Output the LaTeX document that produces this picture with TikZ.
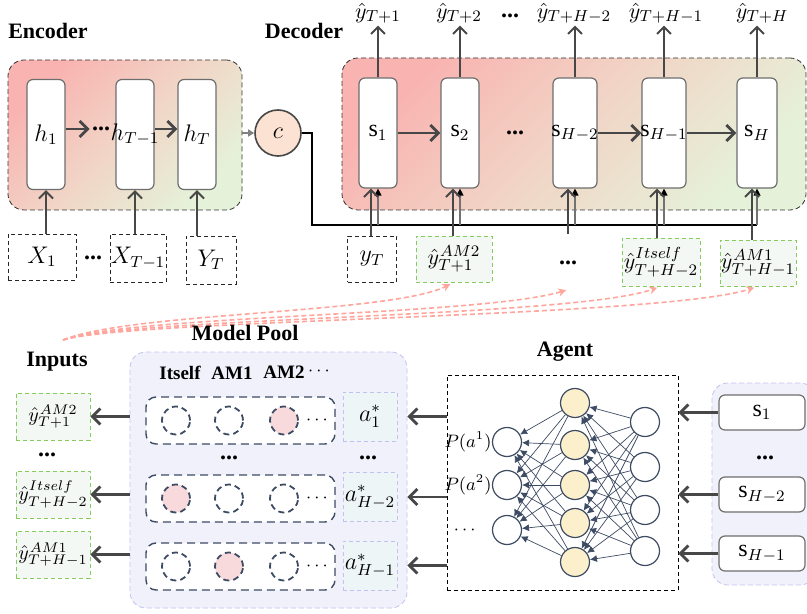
\documentclass[tikz,border=0pt]{standalone}
\usepackage{fontspec}
\setmainfont{Liberation Serif}
\usetikzlibrary{arrows.meta,positioning}
\definecolor{arrowgray}{HTML}{474747}
\definecolor{cellline}{HTML}{6E6E6E}
\definecolor{panelpink}{HTML}{F9B3B1}
\definecolor{panelmid}{HTML}{F1D5C6}
\definecolor{panelgreen}{HTML}{E5F2D9}
\definecolor{cfill}{HTML}{FBE2D2}
\definecolor{boxgreen}{HTML}{86CC5A}
\definecolor{boxgreenfill}{HTML}{F3F8F4}
\definecolor{lavline}{HTML}{C2C2F0}
\definecolor{lavfill}{HTML}{F1F1FC}
\definecolor{afill}{HTML}{EEF5F6}
\definecolor{slate}{HTML}{3D4B63}
\definecolor{rosefill}{HTML}{F8D9DC}
\definecolor{nnyellow}{HTML}{FCEFCB}
\definecolor{curvepink}{HTML}{FFA59C}
\tikzset{
  head/.style={font=\fontsize{11}{13}\selectfont\bfseries, inner sep=1pt},
  colhead/.style={font=\fontsize{9.5}{11}\selectfont\bfseries, inner sep=1pt},
  dotsty/.style={font=\fontsize{12}{14}\selectfont\bfseries, inner sep=1pt},
  panel/.style={draw=black!80, dash pattern=on 2.5pt off 1.5pt, rounded corners=8pt,
    top color=panelpink, bottom color=panelgreen, middle color=panelmid, shading angle=45, inner sep=0pt},
  lavpanel/.style={draw=lavline, dash pattern=on 2.5pt off 1.5pt, rounded corners=8pt, fill=lavfill, inner sep=0pt},
  cell/.style={draw=cellline, line width=0.6pt, fill=white, rounded corners=3pt, minimum width=19pt,
    minimum height=55pt, inner sep=0pt, font=\fontsize{12}{14}\selectfont},
  obs/.style={draw=black!85, dash pattern=on 2pt off 1.5pt, fill=white, inner sep=0pt, font=\fontsize{12}{14}\selectfont},
  pred/.style={draw=boxgreen, dash pattern=on 2pt off 1.5pt, fill=boxgreenfill, inner sep=0pt, font=\fontsize{11}{13}\selectfont},
  abox/.style={draw=lavline, dash pattern=on 2pt off 1.5pt, fill=afill, minimum width=27pt, minimum height=24.5pt,
    inner sep=0pt, font=\fontsize{12}{14}\selectfont},
  sbox/.style={draw=cellline, line width=0.6pt, fill=white, rounded corners=3pt, minimum width=43pt,
    minimum height=17.5pt, inner sep=0pt, font=\fontsize{12}{14}\selectfont},
  rowbox/.style={draw=slate, line width=0.7pt, dash pattern=on 4pt off 2.5pt, fill=white, rounded corners=5pt,
    minimum width=94.5pt, minimum height=23.5pt, inner sep=0pt},
  slot/.style={circle, draw=slate, line width=0.9pt, dash pattern=on 3pt off 2pt, minimum size=14pt, inner sep=0pt},
  neuron/.style={circle, draw=slate, line width=0.6pt, fill=white, minimum size=14.5pt, inner sep=0pt},
  outlbl/.style={font=\fontsize{11}{13}\selectfont, inner sep=1pt},
  small/.style={font=\fontsize{9}{11}\selectfont, inner sep=0pt},
  bigarr/.style={draw=arrowgray, line width=1.4pt, -{Straight Barb[length=4pt,width=8pt]}},
  uparr/.style={draw=arrowgray, line width=1pt, -{Straight Barb[length=3.5pt,width=7pt]}},
  grayarr/.style={draw=black!50, line width=0.8pt, -{Triangle[length=3pt,width=3.5pt]}},
  ctxline/.style={draw=black, line width=0.9pt},
  ctxarr/.style={draw=black!55, line width=0.6pt, -{Triangle[length=3.5pt,width=3.5pt,color=black]}},
  pinkarr/.style={draw=curvepink, line width=0.8pt, dash pattern=on 2.5pt off 1.5pt, shorten >=2pt,
    -{Stealth[length=4pt,width=4pt]}},
  nnedge/.style={draw=slate, line width=0.35pt, -{Latex[length=3.5pt,width=3.5pt]}}
}
\begin{document}
\begin{tikzpicture}[x=0.5pt,y=-0.5pt]
\useasboundingbox (0,0) rectangle (807,614);
\node[head] (enclbl) at (48,31) {Encoder};
\node[head] (declbl) at (304,31) {Decoder};
\node[panel, minimum width=117pt, minimum height=75pt] (enc) at (125,135) {};
\node[panel, minimum width=232pt, minimum height=76pt] (dec) at (574,134) {};
\node[cell] (h1) at (46,134.5) {\makebox[0pt]{$h_1$}};
\node[cell] (hT1) at (135,134.5) {\makebox[0pt]{$h_{T-1}$}};
\node[cell] (hT) at (197,134.5) {\makebox[0pt]{$h_T$}};
\node[dotsty] (edots) at (101,129) {...};
\draw[bigarr] (h1.east |- edots) -- (edots.west);
\draw[bigarr] (hT1.east |- edots) -- (hT.west |- edots);
\node[obs, minimum width=34pt, minimum height=23pt] (x1) at (42,257) {$X_1$};
\node[dotsty] (xdots) at (93,258) {...};
\node[obs, minimum width=28pt, minimum height=24pt] (xT1) at (138,258) {$X_{T-1}$};
\node[obs, minimum width=25pt, minimum height=24pt] (yT0) at (211,260) {$Y_T$};
\draw[uparr] (h1.south |- x1.north) -- (h1.south);
\draw[uparr] (hT1.south |- xT1.north) -- (hT1.south);
\draw[uparr] (hT.south |- yT0.north) -- (hT.south);
\node[circle, draw=arrowgray, line width=0.8pt, fill=cfill, minimum size=23pt, inner sep=0pt,
  font=\fontsize{12}{14}\selectfont] (C) at (278,133) {$c$};
\draw[grayarr] (enc.east |- C.west) -- (C.west);
\node[cell] (s1) at (378,133) {\makebox[0pt]{$\mathrm{s}_1$}};
\node[cell] (s2) at (460,133) {\makebox[0pt]{$\mathrm{s}_2$}};
\node[dotsty] (ddots) at (515,133) {...};
\node[cell, minimum width=22pt] (sH2) at (575,133) {\makebox[0pt]{$\mathrm{s}_{H-2}$}};
\node[cell, minimum width=22pt] (sH1) at (664,133) {\makebox[0pt]{$\mathrm{s}_{H-1}$}};
\node[cell, minimum width=20pt] (sH) at (757,133) {\makebox[0pt]{$\mathrm{s}_H$}};
\draw[bigarr] (s1) -- (s2);
\draw[bigarr] (sH2) -- (sH1);
\draw[bigarr] (sH1) -- (sH);
\node[outlbl] (o1) at (378,13) {$\hat{y}_{T+1}$};
\node[outlbl] (o2) at (459,13) {$\hat{y}_{T+2}$};
\node[dotsty] (odots) at (510,16) {...};
\node[outlbl] (o3) at (574,13) {$\hat{y}_{T+H-2}$};
\node[outlbl] (o4) at (666,13) {$\hat{y}_{T+H-1}$};
\node[outlbl] (o5) at (762,13) {$\hat{y}_{T+H}$};
\foreach \s/\o in {s1/o1,s2/o2,sH2/o3,sH1/o4,sH/o5}
  \draw[uparr] (\s.north) -- (\s.north |- \o.south);
\node[obs, minimum width=24.5pt, minimum height=23pt] (yT) at (372,259) {$y_T$};
\node[pred, minimum width=38pt, minimum height=23pt] (p1) at (454,259) {$\hat{y}^{\mkern1mu AM2}_{T+1}$};
\node[dotsty] (pdots) at (568,263) {...};
\node[pred, minimum width=39pt, minimum height=24pt] (p3) at (661,262) {$\hat{y}^{Itself}_{T+H-2}$};
\node[pred, minimum width=38pt, minimum height=23pt] (p4) at (758,263) {$\hat{y}^{\mkern1mu AM1}_{T+H-1}$};
\coordinate (pdotsin) at (567,234);
\coordinate (pdotsout) at (570,289);
\coordinate (ctx) at (312,225);
\draw[ctxline] (C.east) -| (ctx) -- (ctx -| sH.south);
\foreach \s in {s1,s2,sH2,sH1,sH}
  \draw[ctxarr] (ctx -| \s.south) -- (\s.south);
\draw[uparr] ([xshift=-3.5pt]s1.south |- yT.north) -- ([xshift=-3.5pt]s1.south);
\draw[uparr] ([xshift=-3.5pt]s2.south |- p1.north) -- ([xshift=-3.5pt]s2.south);
\draw[uparr] ([xshift=-3.5pt]sH2.south |- pdotsin) -- ([xshift=-3.5pt]sH2.south);
\draw[uparr] ([xshift=-3.5pt]sH1.south |- p3.north) -- ([xshift=-3.5pt]sH1.south);
\draw[uparr] ([xshift=-2.5pt]sH.south |- p4.north) -- ([xshift=-2.5pt]sH.south);
\coordinate (src) at (63,340);
\draw[pinkarr] (src) .. controls (130,312) and (390,314) .. (p1.south);
\draw[pinkarr] (src) .. controls (130,315) and (480,316) .. (pdotsout);
\draw[pinkarr] (src) .. controls (130,317) and (570,318) .. (p3.south);
\draw[pinkarr] (src) .. controls (130,319) and (660,318) .. (p4.south);
\node[head] (poollbl) at (245,333) {Model Pool};
\node[head] (inlbl) at (57,362) {Inputs};
\node[head] (agentlbl) at (565,352) {Agent};
\node[lavpanel, minimum width=138.5pt, minimum height=128pt] (pool) at (268.5,480) {};
\node[colhead] (c1) at (180,373) {Itself};
\node[colhead] (c2) at (232,373) {AM1};
\node[colhead] (c3) at (284,372) {AM2};
\node[small] (c4) at (319,371) {$\cdots$};
\foreach \r/\y/\f in {1/420.5/3,2/498.5/1,3/566.5/2} {
  \node[rowbox] (row\r) at (240.5,\y) {};
  \foreach \c/\x in {1/176,2/229,3/284} {
    \ifnum\c=\f \def\slotfill{rosefill}\else\def\slotfill{white}\fi
    \node[slot, fill=\slotfill] (m\r\c) at (\x,\y) {};
  }
  \node[small] (rdots\r) at (317,\y) {$\cdots$};
}
\node[dotsty] (mdots) at (229,458) {...};
\node[dotsty] (adots) at (368,458) {...};
\node[abox] (a1) at (370,416.5) {$a^*_1$};
\node[abox] (a2) at (370,497) {$a^*_{H-2}$};
\node[abox] (a3) at (370,565.5) {$a^*_{H-1}$};
\node[pred, minimum width=37pt, minimum height=23.5pt, font=\fontsize{10}{12}\selectfont] (q1) at (53,416.5) {$\hat{y}^{\mkern1mu AM2}_{T+1}$};
\node[dotsty] (qdots) at (47,455) {...};
\node[pred, minimum width=37pt, minimum height=23.5pt, font=\fontsize{10}{12}\selectfont] (q2) at (53,494.5) {$\hat{y}^{Itself}_{T+H-2}$};
\node[pred, minimum width=37pt, minimum height=23.5pt, font=\fontsize{10}{12}\selectfont] (q3) at (53,554.5) {$\hat{y}^{\mkern1mu AM1}_{T+H-1}$};
\foreach \q in {q1,q2,q3}
  \draw[bigarr] (pool.west |- \q) -- (\q.east);
\node[draw, dash pattern=on 2pt off 1.5pt, minimum width=115.5pt, minimum height=107.5pt, inner sep=0pt] (agent) at (562.5,482.5) {};
\foreach \i/\y in {1/442,2/485,3/530}
  \node[neuron] (L\i) at (507,\y) {};
\foreach \i/\y in {1/403,2/445,3/485,4/523,5/562}
  \node[neuron, fill=nnyellow] (M\i) at (575,\y) {};
\foreach \i/\y in {1/422,2/467,3/510,4/551}
  \node[neuron] (R\i) at (645,\y) {};
\foreach \i in {1,...,4}
  \foreach \j in {1,...,5}
    \draw[nnedge] (R\i) -- (M\j);
\foreach \j in {1,...,5}
  \foreach \k in {1,...,3}
    \draw[nnedge] (M\j) -- (L\k);
\node[small, left=0pt of L1] (pa1) {$P(a^1)$};
\node[small, left=0pt of L2] (pa2) {$P(a^2)$};
\node[small, left=8pt of L3] (pa3) {$\cdots$};
\node[lavpanel, minimum width=52pt, minimum height=101pt] (spanel) at (764,484) {};
\node[sbox] (r1) at (762,412.5) {$\mathrm{s}_1$};
\node[dotsty] (rdots) at (765,458) {...};
\node[sbox] (r2) at (762,494.5) {$\mathrm{s}_{H-2}$};
\node[sbox] (r3) at (762,553.5) {$\mathrm{s}_{H-1}$};
\foreach \r in {r1,r2,r3}
  \draw[bigarr] (\r.west) -- (\r.west -| agent.east);
\foreach \a in {a1,a2,a3}
  \draw[bigarr] (agent.west |- \a) -- (pool.east |- \a);
\end{tikzpicture}
\end{document}
